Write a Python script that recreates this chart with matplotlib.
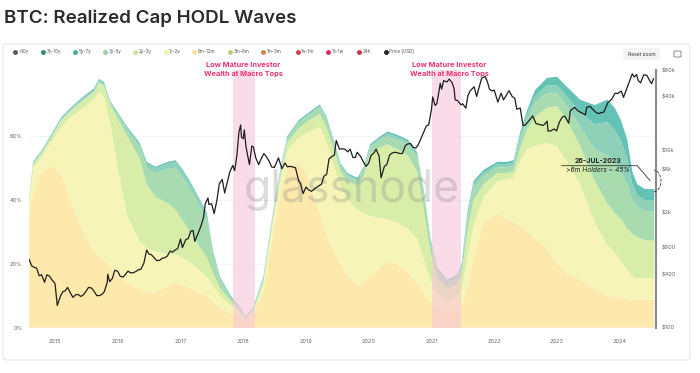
import numpy as np
import pandas as pd
import matplotlib
matplotlib.use("Agg")
import matplotlib.pyplot as plt
from matplotlib.patches import FancyBboxPatch, Arc
from matplotlib.lines import Line2D
from matplotlib.ticker import NullLocator

plt.rcParams['font.family'] = ['Inter', 'DejaVu Sans']

W, H = 700, 373

# realized cap share per age band (%)
band_dates = [2014.59, 2014.65, 2014.80, 2014.95, 2015.10, 2015.25, 2015.45, 2015.62, 2015.70, 2015.78,
              2015.88, 2016.00, 2016.15, 2016.35, 2016.46, 2016.60, 2016.80, 2016.92, 2017.02, 2017.15,
              2017.30, 2017.42, 2017.52, 2017.63, 2017.80, 2017.95, 2018.03, 2018.16, 2018.32, 2018.48,
              2018.59, 2018.70, 2018.88, 2019.01, 2019.22, 2019.33, 2019.44, 2019.55, 2019.66, 2019.82,
              2019.92, 2020.02, 2020.18, 2020.30, 2020.45, 2020.62, 2020.77, 2020.87, 2020.98, 2021.09,
              2021.25, 2021.40, 2021.48, 2021.57, 2021.67, 2021.83, 2022.05, 2022.20, 2022.31, 2022.41,
              2022.52, 2022.65, 2022.84, 2023.00, 2023.16, 2023.37, 2023.60, 2023.80, 2023.92, 2024.02,
              2024.12, 2024.20, 2024.28, 2024.40, 2024.55]
s_6m_12m = [36, 42, 49, 51, 48, 40, 30, 24, 22, 21,
            19, 16, 14, 12, 11, 11, 13, 14, 13.5, 12.5,
            11, 10, 8, 6, 4.5, 3, 1.8, 4, 11.5, 30,
            42, 50, 52, 48, 36, 29, 24, 20, 16, 13.5,
            14, 16, 19, 21, 20, 17.5, 14, 11, 8, 6,
            5, 5.5, 7, 12, 22, 33, 36, 34, 33, 32,
            30.5, 28, 25, 20, 17, 15, 12, 10, 9.5, 9,
            9, 8.8, 8.8, 8.8, 8.8]
s_1y_2y = [3.5, 8, 5, 7.5, 15, 26, 39, 47.5, 52, 51.5,
           45, 34, 21, 15, 14, 13, 10, 9, 8.5, 8,
           7, 6, 5, 4, 2.5, 1.6, 0.6, 1, 2, 4,
           4, 5.5, 7.5, 13, 27, 29, 27, 24, 24.5, 23.5,
           22, 19, 15.5, 13, 13, 13.5, 14, 11, 7, 4.5,
           3.5, 4, 5, 10, 10, 8, 10, 12.5, 14, 20,
           25.5, 29, 33, 37, 35, 30, 21, 16, 14, 12,
           9, 7.2, 6.7, 6.7, 6.7]
s_2y_3y = [0.8, 1.2, 1.2, 1.5, 2, 2, 2.3, 2.3, 2.8, 3.3,
           5.8, 15.5, 25, 26, 20, 17, 16, 14, 12, 9.5,
           7.5, 6, 4, 2.5, 1.3, 0.8, 0.5, 0.6, 1.1, 1.5,
           1.8, 2.5, 3, 3.5, 4, 4.8, 5, 5, 5.5, 7.5,
           11.5, 19.5, 22, 23.5, 23, 23, 21, 16, 9, 5,
           3.8, 4, 4.5, 8, 8, 4, 2.5, 2, 2, 4,
           6, 9, 11, 12.5, 13, 12, 13, 13, 12.5, 13,
           13, 13.5, 13, 12, 11.7]
s_3y_5y = [0.2, 0.2, 0.2, 0.3, 0.3, 0.3, 0.3, 0.3, 0.3, 0.3,
           0.4, 1.2, 2, 3.5, 5.1, 7.5, 10.8, 13.2, 13.7, 13.7,
           12.8, 11.8, 5.5, 2.4, 0.8, 0.5, 0.3, 0.4, 0.7, 0.8,
           0.9, 1.2, 1.6, 1.6, 2.1, 2.2, 2, 1.6, 1.6, 1.6,
           2, 2, 2.3, 2.5, 3, 3.5, 4.5, 4.5, 3.3, 2.3,
           1.7, 1.9, 2.3, 4, 4, 2.6, 1.8, 1.8, 1.8, 2.5,
           3, 4.5, 4.5, 4, 4.5, 6, 10, 15, 16, 15,
           14, 10.5, 9.5, 9, 9.3]
s_5y_7y = [0.3, 0.3, 0.3, 0.4, 0.4, 0.4, 0.5, 0.5, 0.5, 0.5,
           0.4, 0.5, 0.6, 1.0, 1.4, 1.5, 1.7, 1.8, 1.8, 1.8,
           1.7, 1.7, 1.1, 0.8, 0.5, 0.3, 0.15, 0.3, 0.4, 0.4,
           0.4, 0.4, 0.5, 0.5, 0.5, 0.6, 0.6, 0.5, 0.5, 0.5,
           0.6, 0.6, 0.7, 0.9, 0.9, 0.9, 0.9, 0.9, 0.7, 0.7,
           0.6, 0.6, 0.7, 1.2, 1.2, 1, 1, 1, 1, 1.5,
           1.8, 2, 2.5, 2.5, 3, 4.5, 7.8, 10.5, 10, 9.5,
           8, 5, 3.5, 3.5, 3.5]
s_7y_10y = [0.2, 0.3, 0.3, 0.3, 0.3, 0.3, 0.4, 0.4, 0.4, 0.4,
            0.4, 0.3, 0.4, 0.5, 0.5, 0.5, 0.5, 0.5, 0.5, 0.5,
            0.5, 0.5, 0.4, 0.3, 0.4, 0.3, 0.15, 0.2, 0.3, 0.3,
            0.4, 0.4, 0.4, 0.4, 0.4, 0.4, 0.4, 0.4, 0.4, 0.4,
            0.4, 0.4, 0.5, 0.6, 0.6, 0.6, 0.6, 0.6, 0.5, 0.5,
            0.4, 0.5, 0.5, 0.8, 0.8, 0.9, 0.7, 0.7, 0.7, 1,
            1.2, 2, 2.3, 2.7, 3, 4, 6, 7, 7, 6.5,
            6, 4, 3.5, 3.5, 3.5]
band_colors = ['#fde9ab', '#f6f4b6', '#d8eda8', '#a9dbb0', '#8dd1b8', '#64c3b4']

# BTC price (USD)
price_dates = ['2014-08-03', '2014-08-18', '2014-09-01', '2014-09-16', '2014-10-01', '2014-10-15', '2014-11-01',
               '2014-11-15', '2014-12-01', '2014-12-15', '2015-01-01', '2015-01-14', '2015-02-01', '2015-02-15',
               '2015-03-01', '2015-03-15', '2015-04-01', '2015-04-15', '2015-05-01', '2015-05-15', '2015-06-01',
               '2015-06-15', '2015-07-01', '2015-07-15', '2015-08-01', '2015-08-15', '2015-09-01', '2015-09-15',
               '2015-10-01', '2015-10-15', '2015-11-01', '2015-11-04', '2015-11-15', '2015-12-01', '2015-12-15',
               '2016-01-01', '2016-01-15', '2016-02-01', '2016-02-15', '2016-03-01', '2016-03-15', '2016-04-01',
               '2016-04-15', '2016-05-01', '2016-05-15', '2016-06-01', '2016-06-17', '2016-07-01', '2016-07-15',
               '2016-08-01', '2016-08-15', '2016-09-01', '2016-09-15', '2016-10-01', '2016-10-15', '2016-11-01',
               '2016-11-15', '2016-12-01', '2016-12-15', '2017-01-01', '2017-01-12', '2017-02-01', '2017-02-15',
               '2017-03-01', '2017-03-15', '2017-03-25', '2017-04-15', '2017-05-01', '2017-05-15', '2017-05-25',
               '2017-06-10', '2017-06-15', '2017-07-01', '2017-07-16', '2017-08-01', '2017-08-15', '2017-09-01',
               '2017-09-15', '2017-10-01', '2017-10-15', '2017-11-01', '2017-11-12', '2017-11-25', '2017-12-07',
               '2017-12-17', '2017-12-22', '2018-01-01', '2018-01-07', '2018-01-17', '2018-02-06', '2018-02-20',
               '2018-03-01', '2018-03-15', '2018-04-01', '2018-04-15', '2018-05-01', '2018-05-15', '2018-06-01',
               '2018-06-15', '2018-07-01', '2018-07-25', '2018-08-14', '2018-09-01', '2018-09-15', '2018-10-01',
               '2018-10-15', '2018-11-01', '2018-11-20', '2018-12-01', '2018-12-15', '2019-01-01', '2019-01-15',
               '2019-02-01', '2019-02-15', '2019-03-01', '2019-03-15', '2019-04-01', '2019-04-15', '2019-05-01',
               '2019-05-15', '2019-06-01', '2019-06-15', '2019-06-26', '2019-07-15', '2019-08-01', '2019-08-15',
               '2019-09-01', '2019-09-15', '2019-10-01', '2019-10-15', '2019-10-26', '2019-11-15', '2019-12-01',
               '2019-12-17', '2020-01-01', '2020-01-15', '2020-02-01', '2020-02-13', '2020-03-01', '2020-03-13',
               '2020-04-01', '2020-04-15', '2020-05-01', '2020-05-15', '2020-06-01', '2020-06-15', '2020-07-01',
               '2020-07-15', '2020-08-01', '2020-08-15', '2020-09-01', '2020-09-15', '2020-10-01', '2020-10-15',
               '2020-11-01', '2020-11-15', '2020-12-01', '2020-12-15', '2021-01-01', '2021-01-08', '2021-01-22',
               '2021-02-01', '2021-02-15', '2021-02-21', '2021-03-01', '2021-03-13', '2021-04-01', '2021-04-14',
               '2021-05-01', '2021-05-12', '2021-05-19', '2021-06-01', '2021-06-22', '2021-07-01', '2021-07-20',
               '2021-08-01', '2021-08-15', '2021-09-06', '2021-09-21', '2021-10-01', '2021-10-20', '2021-11-10',
               '2021-11-25', '2021-12-04', '2021-12-20', '2022-01-01', '2022-01-22', '2022-02-10', '2022-02-24',
               '2022-03-28', '2022-04-15', '2022-05-01', '2022-05-12', '2022-06-01', '2022-06-18', '2022-07-01',
               '2022-07-15', '2022-08-13', '2022-09-01', '2022-09-15', '2022-10-01', '2022-10-15', '2022-11-05',
               '2022-11-10', '2022-11-25', '2022-12-15', '2022-12-30', '2023-01-15', '2023-02-01', '2023-02-15',
               '2023-03-10', '2023-03-20', '2023-04-14', '2023-05-01', '2023-05-15', '2023-06-15', '2023-06-23',
               '2023-07-13', '2023-07-26', '2023-08-17', '2023-09-01', '2023-09-15', '2023-10-01', '2023-10-24',
               '2023-11-15', '2023-12-05', '2023-12-20', '2024-01-10', '2024-01-23', '2024-02-15', '2024-03-01',
               '2024-03-14', '2024-03-25', '2024-04-08', '2024-04-17', '2024-05-01', '2024-05-20', '2024-06-07',
               '2024-06-24', '2024-07-05', '2024-07-15']
price_usd = [590, 500, 480, 470, 385, 395, 325,
             395, 380, 345, 315, 178, 225, 255,
             260, 285, 245, 220, 235, 237, 225,
             235, 258, 285, 280, 260, 230, 230,
             237, 255, 325, 400, 330, 360, 445,
             432, 380, 372, 400, 435, 415, 417,
             430, 450, 457, 535, 750, 675, 665,
             610, 570, 575, 607, 615, 640, 730,
             710, 755, 780, 1000, 800, 990, 1010,
             1220, 1250, 940, 1180, 1420, 1750, 2500,
             2900, 2450, 2500, 1930, 2750, 4200, 4700,
             3300, 4400, 5700, 6750, 5900, 8700, 16000,
             19300, 14000, 13500, 17000, 10900, 6900, 11200,
             10900, 8200, 6900, 8000, 9200, 8500, 7500,
             6500, 6400, 8200, 6200, 7200, 6500, 6600,
             6500, 6350, 4500, 4200, 3250, 3850, 3600,
             3450, 3600, 3800, 3950, 4150, 5100, 5350,
             8000, 8550, 8800, 12900, 10300, 10400, 10300,
             9600, 10300, 8300, 8300, 9500, 8500, 7400,
             6600, 7200, 8800, 9350, 10300, 8600, 4900,
             6600, 6900, 8800, 9300, 9500, 9400, 9200,
             9200, 11300, 11800, 11900, 10800, 10600, 11500,
             13700, 15900, 18800, 19300, 29000, 40000, 32000,
             33500, 48000, 57000, 49000, 61000, 59000, 63500,
             57800, 50000, 37000, 36500, 32500, 33500, 29800,
             41500, 47000, 52000, 40500, 48000, 65000, 68000,
             57000, 49000, 46700, 47700, 35000, 44000, 37000,
             47000, 40500, 38500, 29000, 30000, 19000, 19300,
             20800, 24400, 20000, 19700, 19300, 19100, 21300,
             16500, 16500, 17400, 16550, 20800, 23700, 24300,
             20200, 28000, 30500, 28000, 27000, 25100, 30500,
             31300, 29300, 26600, 25900, 26600, 27000, 34500,
             37500, 44000, 43600, 46600, 39500, 52000, 62000,
             73000, 67000, 71500, 61500, 57500, 71000, 70000,
             60500, 56500, 64000]

years = list(range(2015, 2025))
pct_ticks = [0, 20, 40, 60]
price_ticks = [100, 400, 800, 2000, 6000, 10000, 40000, 80000]
price_tick_labels = ['$100', '$400', '$800', '$2k', '$6k', '$10k', '$40k', '$80k']

top_windows = [(2017.83, 2018.19), (2021.01, 2021.47)]

legend_labels = ['>10y', '7y-10y', '5y-7y', '3y-5y', '2y-3y', '1y-2y', '6m-12m',
                 '3m-6m', '1m-3m', '1w-1m', '1d-1w', '24h', 'Price (USD)']
legend_colors = ['#5a5a5a', '#2e8b78', '#3fae96', '#93d3a4', '#c8e690', '#f3f0a0', '#fde29c',
                 '#c7c47e', '#d9804e', '#d83c4b', '#cf3058', '#c4354c', '#222222']


def fx(x):
    return x / W


def fy(y):
    return 1 - y / H


pd_dates = pd.to_datetime(price_dates)
price_x = pd_dates.year + (pd_dates.dayofyear - 1) / 365.25

fig = plt.figure(figsize=(7, 3.73), dpi=100)
fig.patch.set_facecolor('white')

card = FancyBboxPatch((fx(3), fy(360)), fx(690) - fx(3), fy(44) - fy(360),
                      boxstyle='round,pad=0,rounding_size=0.006', transform=fig.transFigure,
                      fc='white', ec='#e6e6e6', lw=0.8, zorder=-5)
fig.patches.append(card)

fig.text(fx(3.5), fy(18.5), 'BTC: Realized Cap HODL Waves', fontsize=13.5, fontweight=600,
         color='#2b2b2b', ha='left', va='center')

ax = fig.add_axes([fx(29.3), fy(327.7), fx(656) - fx(29.3), fy(70) - fy(327.7)])
ax.set_facecolor('none')
ax.set_xlim(2014.590, 2024.578)
ax.set_ylim(0, 80.8)
ax.set_axisbelow(True)
ax.grid(axis='y', color='#f1f1f1', lw=0.6)

ax.stackplot(band_dates, s_6m_12m, s_1y_2y, s_2y_3y, s_3y_5y, s_5y_7y, s_7y_10y,
             colors=band_colors, lw=0, zorder=2)
for a, b in top_windows:
    ax.axvspan(a, b, color='#f8c6d9', alpha=0.6, lw=0, zorder=3)

ax.text(fx(352), fy(190), 'glassnode', transform=fig.transFigure, fontsize=32, color='#8c8c8c',
        alpha=0.3, ha='center', va='center', zorder=4)

ax.set_xticks(years)
ax.set_xticklabels([str(y) for y in years])
ax.set_yticks(pct_ticks)
ax.set_yticklabels([f'{p}%' for p in pct_ticks])
ax.tick_params(axis='both', length=0, labelsize=4, colors='#666666')
ax.tick_params(axis='x', pad=8)
ax.tick_params(axis='y', pad=5)
for s in ax.spines.values():
    s.set_visible(False)

ax2 = ax.twinx()
ax2.set_yscale('log')
ax2.set_ylim(100, 80400)
ax2.plot(price_x, price_usd, color='#1e1e1e', lw=0.9, zorder=5)
ax2.set_yticks(price_ticks)
ax2.set_yticklabels(price_tick_labels)
ax2.yaxis.set_minor_locator(NullLocator())
ax2.tick_params(axis='y', length=0, labelsize=4, colors='#666666', pad=4.3)
for k, s in ax2.spines.items():
    s.set_visible(k == 'right')
ax2.spines['right'].set_color('#8a8a8a')
ax2.spines['right'].set_linewidth(1.5)

# legend row
leg_x = [15, 43, 75, 105, 135, 165.7, 194, 230, 263, 297.7, 328, 359, 386]
for lx, lab, col in zip(leg_x, legend_labels, legend_colors):
    fig.add_artist(Line2D([fx(lx)], [fy(51.7)], marker='o', ms=2.5, color=col, lw=0,
                          transform=fig.transFigure))
    fig.text(fx(lx + 3.5), fy(51.7), lab, fontsize=3.3, color='#555555', ha='left', va='center')

# reset zoom button
btn = FancyBboxPatch((fx(623), fy(60)), fx(660) - fx(623), fy(48) - fy(60),
                     boxstyle='round,pad=0,rounding_size=0.004', transform=fig.transFigure,
                     fc='#f4f4f4', ec='none')
fig.patches.append(btn)
fig.text(fx(641.5), fy(54), 'Reset zoom', fontsize=3.6, color='#333333', ha='center', va='center')
icon = FancyBboxPatch((fx(674), fy(57)), fx(681) - fx(674), fy(51) - fy(57),
                      boxstyle='round,pad=0,rounding_size=0.002', transform=fig.transFigure,
                      fc='none', ec='#777777', lw=0.6)
fig.patches.append(icon)

# macro top notes
for cx in (243, 449):
    fig.text(fx(cx), fy(65), 'Low Mature Investor', fontsize=5.3, fontweight='bold',
             color='#e8336f', ha='center', va='center')
    fig.text(fx(cx), fy(74.3), 'Wealth at Macro Tops', fontsize=5.3, fontweight='bold',
             color='#e8336f', ha='center', va='center')

# 26-JUL-2023 note
fig.text(fx(598), fy(161), '26-JUL-2023', fontsize=5, fontweight='bold', color='#222222',
         ha='center', va='center')
fig.text(fx(598), fy(170.5), '>6m Holders ~ 45%', fontsize=4.8, style='italic', color='#222222',
         ha='center', va='center')
fig.add_artist(Line2D([fx(561.7), fx(637.3), fx(650)], [fy(165.7), fy(165.7), fy(180.5)],
                      transform=fig.transFigure, color='#333333', lw=0.6))
fig.add_artist(Arc((6.53, (H - 181) / 100), 0.16, 0.22, theta1=-85, theta2=85,
                   transform=fig.dpi_scale_trans, color='#333333', lw=0.6, ls='--'))

fig.savefig('out.png', dpi=100, facecolor='white')
